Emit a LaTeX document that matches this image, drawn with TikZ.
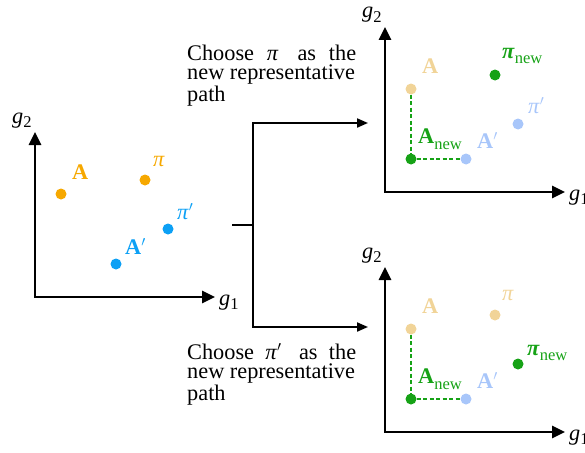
\documentclass[tikz,border=0pt]{standalone}
\usepackage{fontspec}
\setmainfont{Liberation Serif}
\usetikzlibrary{arrows.meta,positioning}

\definecolor{pathorange}{RGB}{246,168,0}
\definecolor{pathblue}{RGB}{12,160,245}
\definecolor{fadeorange}{RGB}{241,212,152}
\definecolor{fadeblue}{RGB}{168,198,250}
\definecolor{newgreen}{RGB}{22,162,22}

\newcommand{\lowtext}[2]{\raisebox{-#1}{\fontsize{16.5}{16.5}\selectfont #2}}
\newcommand{\axislabel}[2]{\textit{#1}\lowtext{4.5pt}{#2}}

\begin{document}
\begin{tikzpicture}[
  x=1pt,y=-1pt,
  font=\fontsize{22.3}{19.5}\selectfont,
  axis/.style={line width=2.8pt,{Triangle[length=13pt,width=12pt]}-{Triangle[length=13pt,width=12pt]}},
  branch/.style={line width=2pt,-{Triangle[length=11pt,width=9pt]}},
  dot/.style={circle,fill=#1,inner sep=0pt,minimum size=11pt},
  lbl/.style={anchor=base west,inner sep=0pt,text=#1},
  guide/.style={draw=newgreen,line width=1.7pt,dash pattern=on 4pt off 2.5pt},
  note/.style={anchor=base west,inner sep=0pt,align=left}
]
  \useasboundingbox (0,0) rectangle (585,452);

  % the three g1/g2 planes
  \foreach \p/\ox/\oy in {l/35/297, t/385/192, b/385/432} {
    \coordinate (\p-o) at (\ox,\oy);
    \coordinate (\p-top) at (\ox,\oy-165);
    \coordinate (\p-right) at (\ox+180,\oy);
    \draw[axis,line join=miter] (\p-top) -- (\p-o) -- (\p-right);
    \node[lbl=black] (\p-g2) at (\ox-23,\oy-174) {\axislabel{g}{2}};
    \node[lbl=black] (\p-g1) at (\ox+184,\oy+8) {\axislabel{g}{1}};
  }

  % left: candidate paths
  \begin{scope}[shift={(35,297)}]
    \node[dot=pathorange] (l-A) at (26,-103) {};
    \node[dot=pathorange] (l-pi) at (110,-117) {};
    \node[dot=pathblue] (l-pip) at (133,-68) {};
    \node[dot=pathblue] (l-Ap) at (81,-33) {};
    \node[lbl=pathorange] (l-Alab) at (37,-118) {\textbf{A}};
    \node[lbl=pathorange] (l-pilab) at (118,-131) {\textit{π}};
    \node[lbl=pathblue] (l-piplab) at (142,-78) {\textit{π}$'$};
    \node[lbl=pathblue] (l-Aplab) at (90,-43) {\textbf{A}$'$};
  \end{scope}

  % top right: pi kept
  \begin{scope}[shift={(385,192)}]
    \node[dot=fadeorange] (t-A) at (26,-103) {};
    \node[dot=newgreen] (t-pin) at (110,-117) {};
    \node[dot=fadeblue] (t-pip) at (133,-68) {};
    \node[dot=fadeblue] (t-Ap) at (81,-33) {};
    \node[dot=newgreen] (t-An) at (26,-33) {};
    \draw[guide] (t-A) -- (t-An) -- (t-Ap);
    \node[lbl=fadeorange] (t-Alab) at (37,-119) {\textbf{A}};
    \node[lbl=newgreen] (t-pinlab) at (117,-133) {\textbf{\textit{π}}\lowtext{5pt}{new}};
    \node[lbl=fadeblue] (t-piplab) at (143,-79) {\textit{π}$'$};
    \node[lbl=fadeblue] (t-Aplab) at (92,-44) {\textbf{A}$'$};
    \node[lbl=newgreen] (t-Anlab) at (33,-49) {\textbf{A}\lowtext{6pt}{new}};
  \end{scope}

  % bottom right: pi' kept
  \begin{scope}[shift={(385,432)}]
    \node[dot=fadeorange] (b-A) at (26,-103) {};
    \node[dot=fadeorange] (b-pi) at (110,-117) {};
    \node[dot=newgreen] (b-pin) at (133,-68) {};
    \node[dot=fadeblue] (b-Ap) at (81,-33) {};
    \node[dot=newgreen] (b-An) at (26,-33) {};
    \draw[guide] (b-A) -- (b-An) -- (b-Ap);
    \node[lbl=fadeorange] (b-Alab) at (37,-119) {\textbf{A}};
    \node[lbl=fadeorange] (b-pilab) at (117,-132) {\textit{π}};
    \node[lbl=newgreen] (b-pinlab) at (142,-77) {\textbf{\textit{π}}\lowtext{5pt}{new}};
    \node[lbl=fadeblue] (b-Aplab) at (92,-44) {\textbf{A}$'$};
    \node[lbl=newgreen] (b-Anlab) at (33,-49) {\textbf{A}\lowtext{6pt}{new}};
  \end{scope}

  % fork to the two choices
  \coordinate (stub) at (232,225);
  \coordinate (fork) at (253,225);
  \coordinate (to-t) at (368,123);
  \coordinate (to-b) at (368,327);
  \draw[line width=2pt] (stub) -- (fork);
  \draw[branch] (fork) |- (to-t);
  \draw[branch] (fork) |- (to-b);

  % base of these notes is the last line
  \node[note] (pick-pi) at (187,101)
    {\makebox[169pt][s]{Choose \textit{π}\hspace{6pt} as the}\\new representative\\path};
  \node[note] (pick-pip) at (187,400)
    {\makebox[169pt][s]{Choose \textit{π}$'$\hspace{6pt} as the}\\new representative\\path};
\end{tikzpicture}
\end{document}
